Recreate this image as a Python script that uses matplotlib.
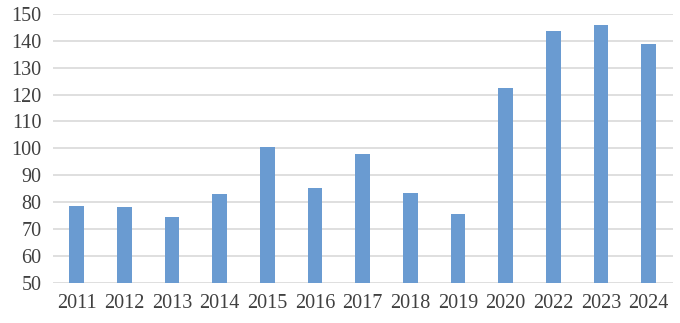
import matplotlib
matplotlib.use('Agg')
import matplotlib.pyplot as plt

# data
years = ['2011', '2012', '2013', '2014', '2015', '2016', '2017',
         '2018', '2019', '2020', '2022', '2023', '2024']
values = [78.5, 78.0, 74.4, 82.9, 100.6, 85.2, 97.9,
          83.4, 75.7, 122.6, 143.8, 145.8, 139.0]
yticks = [50, 60, 70, 80, 90, 100, 110, 120, 130, 140, 150]

plt.rcParams['font.family'] = ['Liberation Serif', 'DejaVu Serif']

fig = plt.figure(figsize=(6.8, 3.23), dpi=100)
ax = fig.add_axes([0.0775, 0.1248, 0.9115, 0.832])

x = list(range(len(years)))
ax.bar(x, [v - 50 for v in values], bottom=50, width=0.31,
       color='#6a9bd1', zorder=3)

ax.set_xlim(-0.5, len(years) - 0.5)
ax.set_ylim(50, 150)
ax.set_yticks(yticks)
ax.set_xticks(x)
ax.set_xticklabels(years)
ax.grid(axis='y', color='#d9d9d9', linewidth=1.2, zorder=0)
for s in ax.spines.values():
    s.set_visible(False)
ax.tick_params(axis='both', length=0, labelsize=14.5, labelcolor='#404040')
ax.tick_params(axis='y', pad=8)
ax.tick_params(axis='x', pad=8)

fig.savefig('out.png', dpi=100)
